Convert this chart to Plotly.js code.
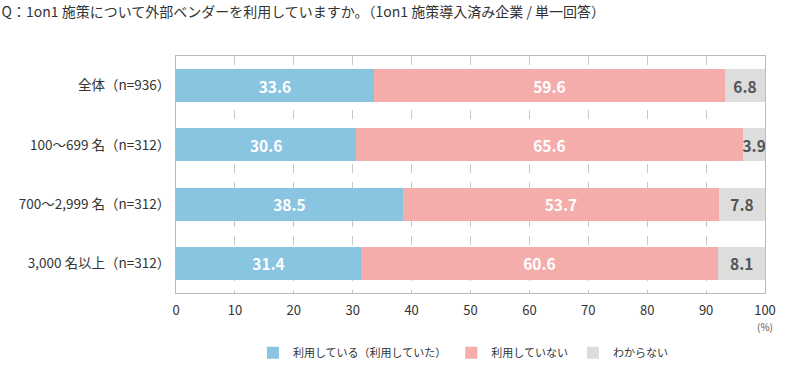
<!DOCTYPE html>
<html>
<head>
<meta charset="utf-8">
<script src="https://cdn.plot.ly/plotly-3.0.1.min.js"></script>
<style>html,body{margin:0;padding:0;background:#fff;}#chart{width:790px;height:370px;}</style>
</head>
<body>
<div id="chart"></div>
<script>
const categories = ["全体（n=936）", "100〜699 名（n=312）", "700〜2,999 名（n=312）", "3,000 名以上（n=312）"];
const seriesNames = ["利用している（利用していた）", "利用していない", "わからない"];
const usingVals = [33.6, 30.6, 38.5, 31.4];
const notUsingVals = [59.6, 65.6, 53.7, 60.6];
const unknownVals = [6.8, 3.9, 7.8, 8.1];
const xTicks = [0, 10, 20, 30, 40, 50, 60, 70, 80, 90, 100];

const FONT = '"Noto Sans CJK JP", "Noto Sans", sans-serif';
const colors = ["#89c4e1", "#f4adab", "#dddddd"];
const textColors = ["#ffffff", "#ffffff", "#555555"];
const vals = [usingVals, notUsingVals, unknownVals];

const traces = vals.map((v, i) => ({
  type: 'bar',
  orientation: 'h',
  name: seriesNames[i],
  y: categories,
  x: v,
  marker: {color: colors[i], line: {width: 0}},
  text: v.map(d => d.toFixed(1)),
  texttemplate: '%{text}',
  textposition: 'inside',
  insidetextanchor: 'middle',
  textangle: 0,
  constraintext: 'none',
  textfont: {family: FONT, size: 15.5, color: textColors[i], weight: 'bold'},
  hoverinfo: 'skip'
}));

const layout = {
  width: 790, height: 370,
  margin: {l: 176, r: 25, t: 56, b: 77, autoexpand: false},
  barmode: 'stack',
  bargap: 0.44,
  paper_bgcolor: '#ffffff',
  plot_bgcolor: '#ffffff',
  font: {family: FONT, color: '#333333', size: 13},
  title: {
    text: 'Q：1on1 施策について外部ベンダーを利用していますか。（1on1 施策導入済み企業 / 単一回答）',
    x: 0.002, xanchor: 'left', xref: 'container',
    y: 0.967, yanchor: 'middle', yref: 'container',
    font: {family: FONT, size: 14, color: '#333333'}
  },
  xaxis: {
    range: [0, 100],
    tickvals: xTicks,
    ticktext: xTicks.map(String),
    showgrid: true,
    gridcolor: '#c8c8c8',
    griddash: 'dash',
    gridwidth: 1,
    showline: true,
    linecolor: '#bbbbbb',
    linewidth: 1,
    mirror: true,
    zeroline: false,
    ticks: '',
    ticklabelstandoff: 5,
    tickfont: {family: FONT, size: 13, color: '#333333'},
    automargin: false,
    fixedrange: true
  },
  yaxis: {
    autorange: 'reversed',
    showgrid: false,
    showline: true,
    linecolor: '#bbbbbb',
    linewidth: 1,
    mirror: true,
    ticks: '',
    ticklabelstandoff: 2,
    tickfont: {family: FONT, size: 13.5, color: '#333333'},
    automargin: false,
    fixedrange: true
  },
  showlegend: true,
  legend: {
    orientation: 'h',
    x: 0.488, xanchor: 'center',
    y: -0.252, yanchor: 'middle',
    font: {family: FONT, size: 11, color: '#333333'},
    traceorder: 'normal',
    itemwidth: 30,
    itemclick: false
  },
  annotations: [{
    text: '(%)', x: 100, xref: 'x', y: -0.14, yref: 'paper',
    showarrow: false, xanchor: 'center', yanchor: 'middle',
    font: {family: FONT, size: 10, color: '#555555'}
  }]
};

Plotly.newPlot('chart', traces, layout, {displayModeBar: false, staticPlot: true});
</script>
</body>
</html>
